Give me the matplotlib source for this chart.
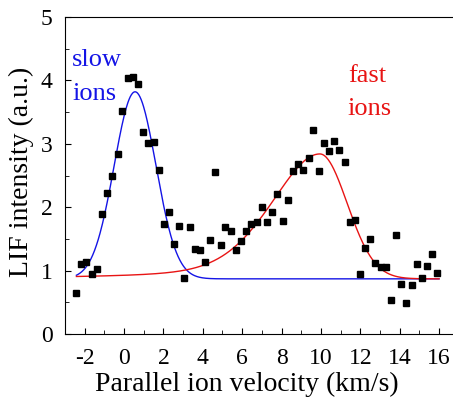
import numpy as np
import matplotlib
matplotlib.use("Agg")
import matplotlib.pyplot as plt

plt.rcParams['font.family'] = ['Liberation Serif', 'DejaVu Serif']
plt.rcParams['axes.unicode_minus'] = False

velocity = [-2.46, -2.17, -1.91, -1.64, -1.37, -1.14, -0.87, -0.59, -0.32, -0.08,
            0.19, 0.44, 0.71, 0.96, 1.22, 1.51, 1.76, 2.02, 2.29, 2.56,
            2.79, 3.07, 3.34, 3.59, 3.85, 4.12, 4.37, 4.62, 4.90, 5.15,
            5.42, 5.69, 5.95, 6.20, 6.45, 6.73, 7.00, 7.27, 7.52, 7.78,
            8.05, 8.32, 8.57, 8.84, 9.10, 9.37, 9.61, 9.88, 10.15, 10.40,
            10.67, 10.93, 11.20, 11.46, 11.71, 11.98, 12.25, 12.51, 12.76, 13.03,
            13.30, 13.56, 13.81, 14.08, 14.34, 14.61, 14.86, 15.13, 15.39, 15.64,
            15.91]
intensity = [0.64, 1.10, 1.14, 0.94, 1.02, 1.90, 2.22, 2.49, 2.84, 3.52,
             4.04, 4.06, 3.94, 3.19, 3.01, 3.03, 2.58, 1.74, 1.92, 1.42,
             1.70, 0.89, 1.69, 1.34, 1.33, 1.14, 1.49, 2.56, 1.41, 1.69,
             1.62, 1.33, 1.47, 1.62, 1.74, 1.77, 2.01, 1.77, 1.92, 2.21,
             1.78, 2.11, 2.57, 2.68, 2.59, 2.78, 3.22, 2.57, 3.02, 2.89,
             3.04, 2.90, 2.72, 1.76, 1.80, 0.95, 1.35, 1.50, 1.12, 1.06,
             1.05, 0.53, 1.56, 0.79, 0.49, 0.78, 1.11, 0.88, 1.07, 1.26,
             0.97]

# fit parameters
baseline = 0.87
slow_center, slow_amp, slow_sigma = 0.56, 2.95, 1.06
fast_center, fast_amp = 9.95, 1.97
fast_sigma_left, fast_hwhm_left, fast_eta_left = 2.5, 2.95, 0.35
fast_sigma_right = 1.38

v = np.linspace(-2.42, 16.0, 600)
slow_fit = baseline + slow_amp * np.exp(-(v - slow_center)**2 / (2 * slow_sigma**2))

dv = v - fast_center
left = (fast_eta_left / (1 + (dv / fast_hwhm_left)**2)
        + (1 - fast_eta_left) * np.exp(-dv**2 / (2 * fast_sigma_left**2)))
right = np.exp(-dv**2 / (2 * fast_sigma_right**2))
fast_fit = baseline + fast_amp * np.where(dv < 0, left, right)

blue = '#1414e6'
red = '#e81414'

fig = plt.figure(figsize=(4.53, 4.0), dpi=100)
ax = fig.add_axes([65/453, 66/400, 1 - 65/453, 317/400])

ax.plot(velocity, intensity, 's', color='black', ms=4.6, zorder=3)
ax.plot(v, slow_fit, color=blue, lw=1.0)
ax.plot(v, fast_fit, color=red, lw=1.0)

ax.text(-2.63, 4.22, "slow", color=blue, fontsize=19, va='baseline')
ax.text(-2.63, 3.69, "ions", color=blue, fontsize=19, va='baseline')
ax.text(11.37, 3.98, "fast", color=red, fontsize=19, va='baseline')
ax.text(11.37, 3.45, "ions", color=red, fontsize=19, va='baseline')

ax.set_xlim(-3, 16.71)
ax.set_ylim(0, 5)
ax.set_xticks(np.arange(-2, 17, 2))
ax.set_xticks(np.arange(-3, 17, 1), minor=True)
ax.set_yticks(np.arange(0, 6, 1))
ax.set_yticks(np.arange(0, 5.01, 0.5), minor=True)
ax.tick_params(which='both', direction='in', labelsize=17, top=False, right=False)
ax.tick_params(which='major', length=4.5)
ax.tick_params(which='minor', length=3)
ax.tick_params(axis='y', which='major', pad=9)
ax.tick_params(axis='x', which='major', pad=10)
ax.spines['right'].set_visible(False)

ax.set_xlabel("Parallel ion velocity (km/s)", fontsize=20)
ax.set_ylabel("LIF intensity (a.u.)", fontsize=20)
ax.xaxis.set_label_coords(0.468, -0.12)
ax.yaxis.set_label_coords(-0.08, 0.51)

fig.savefig("out.png", dpi=100)
